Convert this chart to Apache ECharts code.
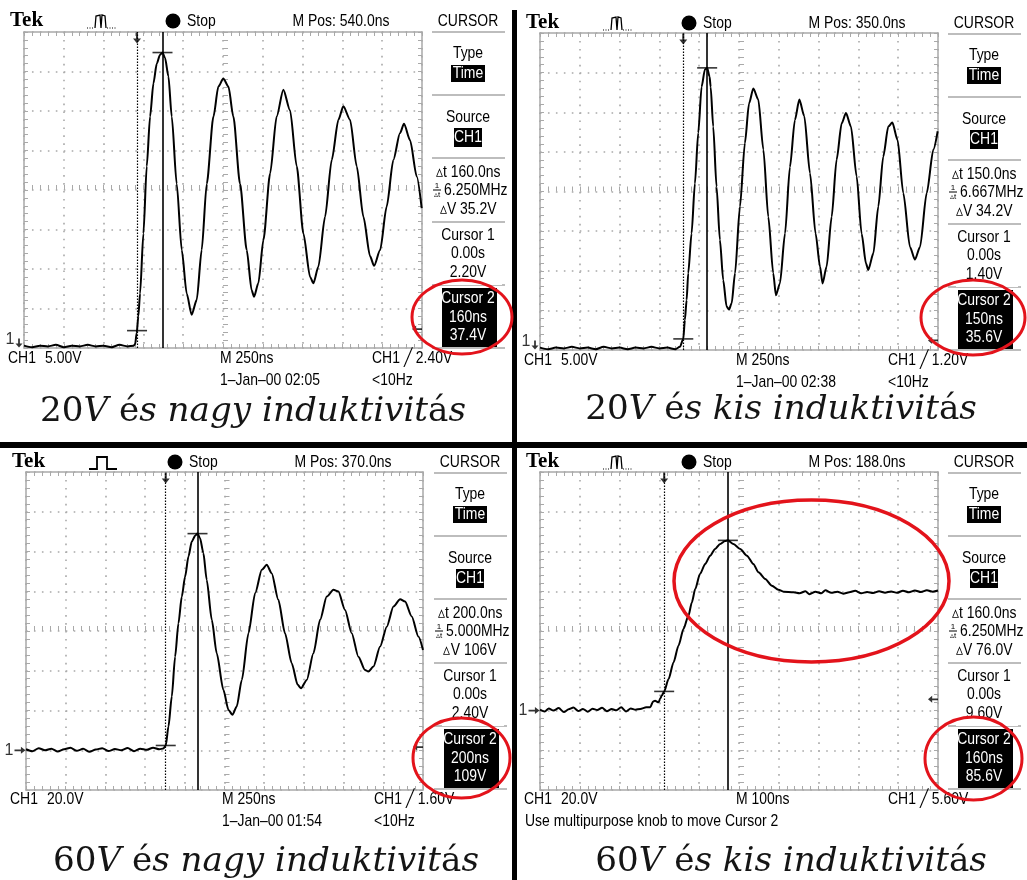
<!DOCTYPE html>
<html><head><meta charset="utf-8">
<script src="https://cdn.jsdelivr.net/npm/echarts@6/dist/echarts.min.js"></script>
<style>html,body{margin:0;padding:0;background:#fff}#c{width:1027px;height:880px}</style>
</head><body><div id="c"></div><script>
// ===== DATA (time in ns, voltage in V) =====
const p1Trace = [[-710,0.3],[-660,0.1],[-610,0.3],[-560,0.2],[-510,0.4],[-460,0.1],[-410,0.3],[-360,0.2],[-310,0.4],[-260,0.2],[-210,0.3],[-160,0.1],[-110,0.4],[-60,0.2],[-20,0.3],
[-12,0.5],[-2,1.9],[8,4.0],[19,6.9],[40,14.5],[61,23.0],[82,29.3],[103,33.5],[124,36.0],[144,37.1],[160,37.4],[176,36.7],[197,34.4],[218,29.3],[249,20.8],[281,12.4],[312,6.9],[343,4.2],[375,6.1],[406,12.4],[438,20.8],[480,29.3],[511,33.1],[542,34.1],[574,33.1],[605,29.3],[647,20.8],[689,12.4],[720,7.3],[735,6.5],[762,8.2],[794,13.7],[836,22.1],[877,29.3],[919,32.7],[961,30.1],[1003,23.0],[1045,14.5],[1087,9.0],[1108,8.2],[1139,10.3],[1181,16.6],[1223,23.8],[1265,28.9],[1296,30.6],[1338,28.9],[1380,23.0],[1422,16.6],[1464,11.6],[1489,10.4],[1527,12.4],[1568,17.9],[1610,23.8],[1652,27.2],[1677,28.4],[1715,26.3],[1757,21.7],[1788,17.7]];

const p2Trace = [[-900,0.3],[-850,0.1],[-800,0.3],[-750,0.2],[-700,0.4],[-650,0.2],[-600,0.3],[-550,0.1],[-500,0.4],[-450,0.2],[-400,0.3],[-350,0.1],[-300,0.3],[-250,0.2],[-200,0.4],[-150,0.2],[-100,0.3],[-50,0.1],[-21,0.4],
[0,1.4],[10,3.8],[21,6.3],[31,9.7],[52,14.7],[73,21.0],[94,27.4],[115,33.2],[136,35.4],[150,35.6],[165,34.5],[172,33.2],[188,28.2],[209,20.6],[230,13.9],[251,8.8],[272,5.5],[287,5.1],[304,5.9],[325,9.7],[356,18.1],[387,26.1],[413,31.1],[440,33.0],[471,31.6],[503,25.3],[534,16.8],[565,9.7],[582,6.9],[607,8.4],[639,14.7],[670,23.1],[701,29.0],[729,31.6],[760,29.5],[796,22.3],[831,14.7],[859,10.5],[875,8.4],[900,10.5],[932,16.8],[963,24.0],[995,28.6],[1022,29.9],[1053,28.2],[1089,21.9],[1120,14.7],[1148,10.9],[1162,10.1],[1194,12.2],[1225,18.1],[1256,24.4],[1288,28.2],[1313,28.7],[1346,26.5],[1382,19.8],[1424,13.0],[1455,11.4],[1487,13.0],[1529,19.8],[1571,25.3],[1598,27.6]];

const p3Trace = [[-880,0.5],[-840,-0.5],[-800,1.0],[-760,0],[-720,0.8],[-680,-0.6],[-640,0.5],[-600,1.2],[-560,-0.3],[-520,0.7],[-480,-0.8],[-440,0.4],[-400,1.0],[-360,-0.4],[-320,0.6],[-280,0],[-240,1.1],[-200,-0.5],[-160,0.8],[-120,0.2],[-80,1.3],[-40,0.5],[-15,0.9],
[0,2.4],[17,11.9],[38,27.0],[59,47.1],[80,63.9],[101,77.3],[122,87.4],[143,97.5],[164,105.0],[185,107.9],[200,109],[216,106.7],[237,99.2],[258,85.7],[290,65.6],[321,48.8],[363,30.4],[395,20.3],[420,17.8],[447,22.0],[479,35.4],[521,58.9],[563,79.0],[605,90.8],[636,93.3],[667,89.1],[709,75.7],[751,58.9],[793,43.8],[831,32.9],[852,31.2],[888,35.4],[930,48.8],[972,65.6],[1014,77.3],[1056,80.7],[1087,79.9],[1129,70.6],[1171,58.9],[1213,47.1],[1255,40.4],[1276,39.6],[1308,42.1],[1350,52.2],[1392,62.2],[1434,72.3],[1476,76.0],[1507,74.8],[1549,67.3],[1591,57.2],[1620,50.5]];

const p4Trace = [[-312,0.5],[-300,-0.5],[-290,1],[-278,0],[-265,1.2],[-252,-0.8],[-240,0.6],[-228,1.5],[-216,-0.3],[-204,0.8],[-192,-0.6],[-180,0.9],[-168,0.2],[-156,1.4],[-144,-0.4],[-132,0.7],[-120,0.1],[-108,1.6],[-96,-0.5],[-84,1.0],[-72,0.4],[-60,0.8],
[-45,1.6],[-35,1.6],[-28,4.5],[-23,4.9],[-14,4.1],[-10,6.0],[-6,7.5],[0,9.6],[11,15.8],[23.5,24.2],[36,32.6],[48.5,41.0],[61,47.7],[69.5,54.4],[78,61.1],[90,68.7],[103,73.7],[115.5,77.9],[128,81.3],[140.7,83.8],[153,85.3],[160,85.6],[174,83.8],[191,81.3],[208,77.9],[224,73.7],[237,69.5],[254,66.2],[270.6,62.8],[287,60.8],[300,59.8],[325,59.5],
[340,59],[355,60],[365,58.5],[380,59.8],[395,59],[405,60.5],[420,59.2],[435,59.8],[450,58.8],[465,59.5],[480,60.2],[495,59],[510,59.6],[525,59.1],[540,60],[555,59.3],[570,59.9],[585,59.2],[600,60.3],[615,59.5],[630,60.4],[645,59.6],[660,60.5],[675,59.8],[688,60.4]];

const cursor1 = [[0,2.2],[0,1.4],[0,2.4],[0,9.6]];
const cursor2 = [[160,37.4],[150,35.6],[200,109],[160,85.6]];
const trigLevels = [2.4, 1.2, 1.6, 5.6];
const timeRanges = [[-710,1790],[-900,1600],[-880,1620],[-312,688]];
const voltRanges = [[0,40],[0,40],[-20,140],[-40,120]];

// ===== TEXT =====
const mPosText = ['M Pos: 540.0ns','M Pos: 350.0ns','M Pos: 370.0ns','M Pos: 188.0ns'];
const dtText = ['160.0ns','150.0ns','200.0ns','160.0ns'];
const freqText = ['6.250MHz','6.667MHz','5.000MHz','6.250MHz'];
const dvText = ['35.2V','34.2V','106V','76.0V'];
const c1Text = [['0.00s','2.20V'],['0.00s','1.40V'],['0.00s','2.40V'],['0.00s','9.60V']];
const c2Text = [['160ns','37.4V'],['150ns','35.6V'],['200ns','109V'],['160ns','85.6V']];
const vdivText = ['5.00V','5.00V','20.0V','20.0V'];
const tdivText = ['M 250ns','M 250ns','M 250ns','M 100ns'];
const trigText = ['2.40V','1.20V','1.60V','5.60V'];
const dateText = ['1\u2013Jan\u201300 02:05','1\u2013Jan\u201300 02:38','1\u2013Jan\u201300 01:54', null];
const msgText = 'Use multipurpose knob to move Cursor 2';
const captionVolt = ['20','20','60','60'];
const captionWord = ['nagy','kis','nagy','kis'];

// ===== LAYOUT =====
const gridBoxes = [
  {left:24, top:32, width:398, height:316},
  {left:540, top:33, width:398, height:317},
  {left:26, top:472, width:397, height:318},
  {left:540, top:472, width:398, height:318}];
const shift = [[0,0],[516,2],[2,441],[516,441]];
const captionPos = [[253,412],[781,410],[266,862],[791,862]];
const smallEllipse = [[462,317,50,37],[973,317.5,52,37.5],[461.5,758,48.5,40],[973.5,758.5,48.5,41.5]];

const GC = '#a9a9a9';
const SANS = 'Liberation Sans';
const ARROW_DOWN = 'path://M3,0L5,0L5,6L8,6L4,11L0,6L3,6Z';
const ARROW_RIGHT = 'path://M0,3L7,3L7,0L12,4L7,8L7,5L0,5Z';
const ARROW_LEFT = 'path://M12,3L5,3L5,0L0,4L5,8L5,5L12,5Z';

const xAxes = [], yAxes = [], series = [], G = [];
gridBoxes.forEach((b, g) => {
  const tick = {show:true, inside:true, length:4, lineStyle:{color:GC, width:1}};
  const minor = {show:true, splitNumber:5, length:4, lineStyle:{color:GC, width:1}};
  const lbl = {show:false};
  const border = {show:true, onZero:false, lineStyle:{color:GC, width:1.5}};
  const dotted = {show:true, lineStyle:{color:GC, width:1.6, type:[1.6,6.35]}};
  xAxes.push({gridIndex:g, type:'value', min:-5, max:5, interval:1, position:'bottom', axisLine:border, axisTick:tick, minorTick:minor, axisLabel:lbl, splitLine:dotted});
  xAxes.push({gridIndex:g, type:'value', min:-5, max:5, interval:1, position:'top', axisLine:border, axisTick:tick, minorTick:minor, axisLabel:lbl, splitLine:{show:false}});
  xAxes.push({gridIndex:g, type:'value', min:-5, max:5, interval:1, position:'bottom', axisLine:{show:false, onZero:true, onZeroAxisIndex:g*4}, axisTick:{...tick, length:5}, minorTick:{...minor, length:5}, axisLabel:lbl, splitLine:{show:false}});
  xAxes.push({gridIndex:g, type:'value', min:timeRanges[g][0], max:timeRanges[g][1], show:false, axisLine:{onZero:false}, splitLine:{show:false}});
  yAxes.push({gridIndex:g, type:'value', min:-4, max:4, interval:1, position:'left', axisLine:border, axisTick:tick, minorTick:minor, axisLabel:lbl, splitLine:dotted});
  yAxes.push({gridIndex:g, type:'value', min:-4, max:4, interval:1, position:'right', axisLine:border, axisTick:tick, minorTick:minor, axisLabel:lbl, splitLine:{show:false}});
  yAxes.push({gridIndex:g, type:'value', min:-4, max:4, interval:1, position:'left', axisLine:{show:false, onZero:true, onZeroAxisIndex:g*4}, axisTick:{...tick, length:5}, minorTick:{...minor, length:5}, axisLabel:lbl, splitLine:{show:false}});
  yAxes.push({gridIndex:g, type:'value', min:voltRanges[g][0], max:voltRanges[g][1], show:false, axisLine:{onZero:false}, splitLine:{show:false}});

  const xi = g*4+3, yi = g*4+3;
  const groundAtEdge = voltRanges[g][0] === 0;
  series.push({type:'line', xAxisIndex:xi, yAxisIndex:yi, data:(g===0?p1Trace:g===1?p2Trace:g===2?p3Trace:p4Trace),
    symbol:'none', smooth:0.25, smoothMonotone:'x', lineStyle:{color:'#000', width:2}, silent:true, z:5,
    markLine:{silent:true, symbol:['none','none'], label:{show:false}, animation:false,
      data:[{xAxis:cursor1[g][0], lineStyle:{color:'#000', width:1.2, type:[1.5,1.5]}},
            {xAxis:cursor2[g][0], lineStyle:{color:'#000', width:1.6, type:'solid'}}]}});
  series.push({type:'scatter', xAxisIndex:xi, yAxisIndex:yi, data:[cursor1[g], cursor2[g]], symbol:'rect', symbolSize:[20,1.6], itemStyle:{color:'#000'}, silent:true, clip:false, z:6});
  series.push({type:'scatter', xAxisIndex:xi, yAxisIndex:yi, data:[[cursor1[g][0], voltRanges[g][1]]], symbol:ARROW_DOWN, symbolSize:[8,11], symbolOffset:[0,6], itemStyle:{color:'#000'}, silent:true, clip:false, z:6});
  series.push({type:'scatter', xAxisIndex:xi, yAxisIndex:yi, data:[[timeRanges[g][0], 0]],
    symbol: groundAtEdge ? ARROW_DOWN : ARROW_RIGHT, symbolSize: groundAtEdge ? [7,9] : [11,7], symbolOffset: groundAtEdge ? [-5,-5] : [-6,0],
    itemStyle:{color:'#000'}, silent:true, clip:false, z:6,
    label:{show:true, position:'left', distance:1, formatter:'1', fontSize:16, fontFamily:SANS, color:'#000', offset: groundAtEdge ? [0,-3] : [0,0]}});
  series.push({type:'scatter', xAxisIndex:xi, yAxisIndex:yi, data:[[timeRanges[g][1], trigLevels[g]]], symbol:ARROW_LEFT, symbolSize:[10,7], symbolOffset:[-5,0], itemStyle:{color:'#000'}, silent:true, clip:false, z:6});
});

function T(x, y, text, o) {
  o = o || {};
  return {type:'text', x:x, y:y, scaleX:(o.sx != null ? o.sx : 0.82), z:(o.z || 50), silent:true,
    style:{text:text, fill:o.fill || '#000', fontSize:o.size || 17, fontFamily:o.family || SANS, fontWeight:o.weight || 'normal', align:o.align || 'left', verticalAlign:'middle'}};
}
function L(x1,y1,x2,y2,st) { return {type:'line', silent:true, z:40, shape:{x1,y1,x2,y2}, style:Object.assign({stroke:'#000', lineWidth:1.5}, st||{})}; }
function R(x,y,w,h,fill,z) { return {type:'rect', silent:true, z:(z||45), shape:{x,y,width:w,height:h}, style:{fill:fill}}; }

gridBoxes.forEach((b, i) => {
  const dx = shift[i][0], dy = shift[i][1];
  const C = 468 + dx;
  // header
  G.push(T(10+dx, 21+dy, 'Tek', {family:'Liberation Serif', weight:'bold', size:21, sx:1}));
  if (i === 2) {
    G.push({type:'polyline', silent:true, z:40, shape:{points:[[89,28+dy],[97,28+dy],[97,16+dy],[107,16+dy],[107,28+dy],[117,28+dy]]}, style:{stroke:'#000', lineWidth:1.8, fill:null}});
  } else {
    G.push(L(87+dx,28+dy,94+dx,28+dy,{lineDash:[1,1.5], lineWidth:1}));
    G.push({type:'polyline', silent:true, z:40, shape:{points:[[95+dx,28+dy],[96+dx,16+dy],[100+dx,15+dy],[101+dx,28+dy],[102+dx,15+dy],[105+dx,16+dy],[106+dx,28+dy]]}, style:{stroke:'#000', lineWidth:1.3, fill:null}});
    G.push(L(107+dx,28+dy,117+dx,28+dy,{lineDash:[1,1.5], lineWidth:1}));
  }
  G.push({type:'circle', silent:true, z:40, shape:{cx:173+dx, cy:21+dy, r:7.5}, style:{fill:'#000'}});
  G.push(T(187+dx, 21+dy, 'Stop'));
  G.push(T(341+dx, 21+dy, mPosText[i], {align:'center'}));
  G.push(T(C, 21+dy, 'CURSOR', {align:'center'}));
  // menu
  [32,95,158,222,285,348].forEach(y => G.push(L(432+dx, y+dy, 505+dx, y+dy, {stroke:'#bdbdbd', lineWidth:2})));
  G.push(T(C, 53+dy, 'Type', {align:'center'}));
  G.push(R(451+dx, 65+dy, 34, 17, '#000'));
  G.push(T(C, 73.5+dy, 'Time', {align:'center', fill:'#fff'}));
  G.push(T(C, 117+dy, 'Source', {align:'center'}));
  G.push(R(454+dx, 128+dy, 28, 19, '#000'));
  G.push(T(C, 137.5+dy, 'CH1', {align:'center', fill:'#fff'}));
  G.push(T(C, 172+dy, '\u25B5t ' + dtText[i], {align:'center'}));
  G.push(T(437+dx, 186+dy, '1', {align:'center', size:8, sx:1}));
  G.push(L(433+dx, 190+dy, 441+dx, 190+dy, {lineWidth:1}));
  G.push(T(437+dx, 195+dy, '\u25B5t', {align:'center', size:8, sx:1}));
  G.push(T(444+dx, 190+dy, freqText[i]));
  G.push(T(C, 209+dy, '\u25B5V ' + dvText[i], {align:'center'}));
  G.push(T(C, 235+dy, 'Cursor 1', {align:'center'}));
  G.push(T(C, 253+dy, c1Text[i][0], {align:'center'}));
  G.push(T(C, 272+dy, c1Text[i][1], {align:'center'}));
  G.push(R(440+dx, 278+dy, 62, 7, '#fff', 55));
  G.push(R(442+dx, 288+dy, 55, 59, '#000', 45));
  G.push(T(C, 298+dy, 'Cursor 2', {align:'center', fill:'#fff'}));
  G.push(T(C, 317+dy, c2Text[i][0], {align:'center', fill:'#fff'}));
  G.push(T(C, 335+dy, c2Text[i][1], {align:'center', fill:'#fff'}));
  // footer
  G.push(T(8+dx, 358+dy, 'CH1'));
  G.push(T(45+dx, 358+dy, vdivText[i]));
  G.push(T(220+dx, 358+dy, tdivText[i]));
  G.push(T(372+dx, 358+dy, 'CH1 \u2571 ' + trigText[i]));
  if (dateText[i]) {
    G.push(T(220+dx, 380+dy, dateText[i]));
    G.push(T(372+dx, 380+dy, '<10Hz'));
  } else {
    G.push(T(9+dx, 380+dy, msgText));
  }
  // caption
  G.push({type:'text', x:captionPos[i][0], y:captionPos[i][1], scaleX:1.035, silent:true, z:50,
    style:{text:'{n|' + captionVolt[i] + '}{i|V}{n| \u00e9}{i|s ' + captionWord[i] + ' induktivit}{n|\u00e1}{i|s}',
      fill:'#151515', fontSize:33, fontFamily:'DejaVu Serif', align:'center', verticalAlign:'middle',
      rich:{n:{fontStyle:'normal', fontSize:33, fontFamily:'DejaVu Serif', fill:'#151515'},
            i:{fontStyle:'italic', fontSize:33, fontFamily:'DejaVu Serif', fill:'#151515'}}}});
  // red ellipse around Cursor 2 box
  const e = smallEllipse[i];
  G.push({type:'ellipse', silent:true, z:100, shape:{cx:e[0], cy:e[1], rx:e[2], ry:e[3]}, style:{fill:null, stroke:'#e3131b', lineWidth:3}});
});
// big ellipse on the 4th panel
G.push({type:'ellipse', silent:true, z:100, shape:{cx:811.5, cy:581, rx:137.5, ry:81}, style:{fill:null, stroke:'#e3131b', lineWidth:3.5}});
// separators
G.push(R(512, 10, 5, 870, '#000', 60));
G.push(R(0, 442, 1027, 6, '#000', 60));

const chart = echarts.init(document.getElementById('c'), null, {renderer:'canvas'});
chart.setOption({animation:false, backgroundColor:'#fff', grid:gridBoxes, xAxis:xAxes, yAxis:yAxes, series:series, graphic:G});
</script></body></html>
